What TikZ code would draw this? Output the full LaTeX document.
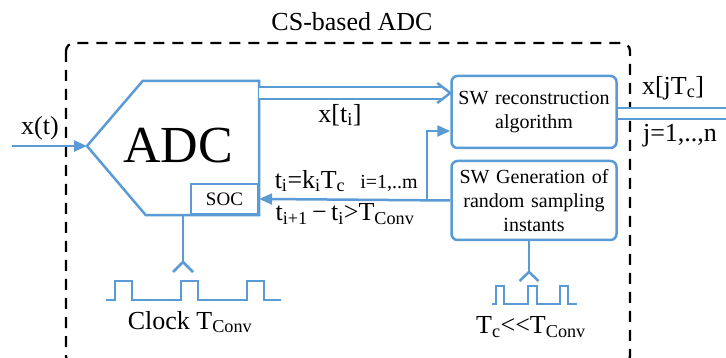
\documentclass[tikz,border=0pt]{standalone}
\usepackage{fontspec}
\setmainfont{LiberationSerif}[Extension=.ttf, UprightFont=*-Regular, BoldFont=*-Bold, ItalicFont=*-Italic, BoldItalicFont=*-BoldItalic]
\usepackage{tikz}
\usetikzlibrary{arrows.meta,positioning}
\definecolor{adcblue}{RGB}{91,155,213}
\tikzstyle{wire} = [draw=adcblue, line width=2.5pt]
\tikzstyle{line} = [wire, -{Triangle[length=13pt,width=11pt]}]
\tikzstyle{bus} = [draw=adcblue, double=white, double distance=9.5pt, line width=2.5pt]
\tikzstyle{frame} = [draw, line width=2.3pt, dash pattern=on 11pt off 8pt, rounded corners=8pt]
\tikzstyle{adcbody} = [rectangle, minimum width=116pt, minimum height=134pt, inner sep=0pt]
\tikzstyle{socbox} = [rectangle, draw=adcblue, line width=2.5pt, minimum width=67pt, minimum height=30pt, inner sep=0pt, font=\fontsize{19}{22}\selectfont]
\tikzstyle{swbox} = [rectangle, draw=adcblue, line width=2.5pt, rounded corners=6pt, minimum width=165pt, text width=160pt, inner sep=2pt, text centered, font=\fontsize{20}{24}\selectfont]
\tikzstyle{lbl} = [inner sep=0pt, font=\fontsize{26}{30}\selectfont]
\tikzstyle{small} = [inner sep=0pt, font=\fontsize{20}{24}\selectfont]

\begin{document}
\begin{tikzpicture}[x=1pt, y=-1pt]
\useasboundingbox (0,0) rectangle (726,358);

\draw [frame] (66,43) rectangle (630,364);
\node [lbl] (cs) at (352,22) {CS-based ADC};

% converter
\node [adcbody] (adc) at (201,148) {};
\coordinate (adctip) at (87,146);
\draw [wire] (adc.north west) -- (adc.north east) -- (adc.south east) -- ([xshift=3pt]adc.south west) -- (adctip) -- cycle;
\node [inner sep=0pt, font=\fontsize{52}{56}\selectfont] (adctxt) at (178,146) {ADC};
\node [socbox, anchor=south east] (soc) at (adc.south east) {SOC};

\coordinate (xin) at (12,146);
\draw [line] (xin) -- (adctip);
\node [lbl] (xt) at (40,128) {x(t)};

% software blocks
\node [swbox, minimum height=72pt] (rec) at (534,112) {SW reconstruction\\algorithm};
\node [swbox, below of=rec, node distance=88.5pt, minimum height=79pt] (gen) {SW Generation of\\random sampling\\instants};

\coordinate (bustip) at (rec.west |- 0,93);
\draw [bus] (adc.east |- 0,93) -- ([xshift=-7pt]bustip);
\draw [wire] ([xshift=-13pt,yshift=10pt]bustip) -- (bustip) -- ([xshift=-13pt,yshift=-10pt]bustip);
\node [lbl] (xti) at (340,115) {x[t\textsubscript{i}]};

\coordinate (xout) at (740,113.5);
\draw [bus, double distance=8.5pt] (rec.east |- 0,113.5) -- (xout);
\node [lbl] (xjtc) at (673,88) {x[jT\textsubscript{c}]};
\node [lbl] (jn) at (680,136) {j=1,..,n};

% sampling instants back to the ADC
\draw [line] (gen.west) -- (soc.east);
\coordinate (tap) at (427,0 |- gen.west);
\draw [line] (tap) |- ([yshift=-19pt]rec.west);
\node [lbl] (tk) at (310,181) {t\textsubscript{i}=k\textsubscript{i}T\textsubscript{c}};
\node [small] (im) at (389,183) {i=1,..m};
\node [lbl] (tconv) at (345,214) {t\textsubscript{i+1}\,−\,t\textsubscript{i}>T\textsubscript{Conv}};

% clocks
\coordinate (fork1) at (183,262);
\draw [wire] (183,0 |- adc.south) -- (fork1);
\draw [wire] ([xshift=-10pt,yshift=-10pt]fork1) -- (fork1) -- ([xshift=10pt,yshift=-10pt]fork1);
\draw [wire, line width=2.2pt] (106,300) -- ++(9,0) -- ++(0,-19) -- ++(17,0) -- ++(0,19) -- ++(49,0) -- ++(0,-19) -- ++(17,0) -- ++(0,19) -- ++(49,0) -- ++(0,-19) -- ++(17,0) -- ++(0,19) -- ++(17,0);
\node [lbl] (clkconv) at (190,322) {Clock T\textsubscript{Conv}};

\coordinate (fork2) at (529,272);
\draw [wire] (529,0 |- gen.south) -- (fork2);
\draw [wire] ([xshift=-9.5pt,yshift=-9pt]fork2) -- (fork2) -- ([xshift=9.5pt,yshift=-9pt]fork2);
\draw [wire, line width=2.2pt] (492,304) -- ++(4,0) -- ++(0,-18) -- ++(8,0) -- ++(0,18) -- ++(24,0) -- ++(0,-18) -- ++(9,0) -- ++(0,18) -- ++(23,0) -- ++(0,-18) -- ++(8,0) -- ++(0,18) -- ++(9,0);
\node [lbl] (clkc) at (531,327) {T\textsubscript{c}<{}<T\textsubscript{Conv}};
\end{tikzpicture}
\end{document}
